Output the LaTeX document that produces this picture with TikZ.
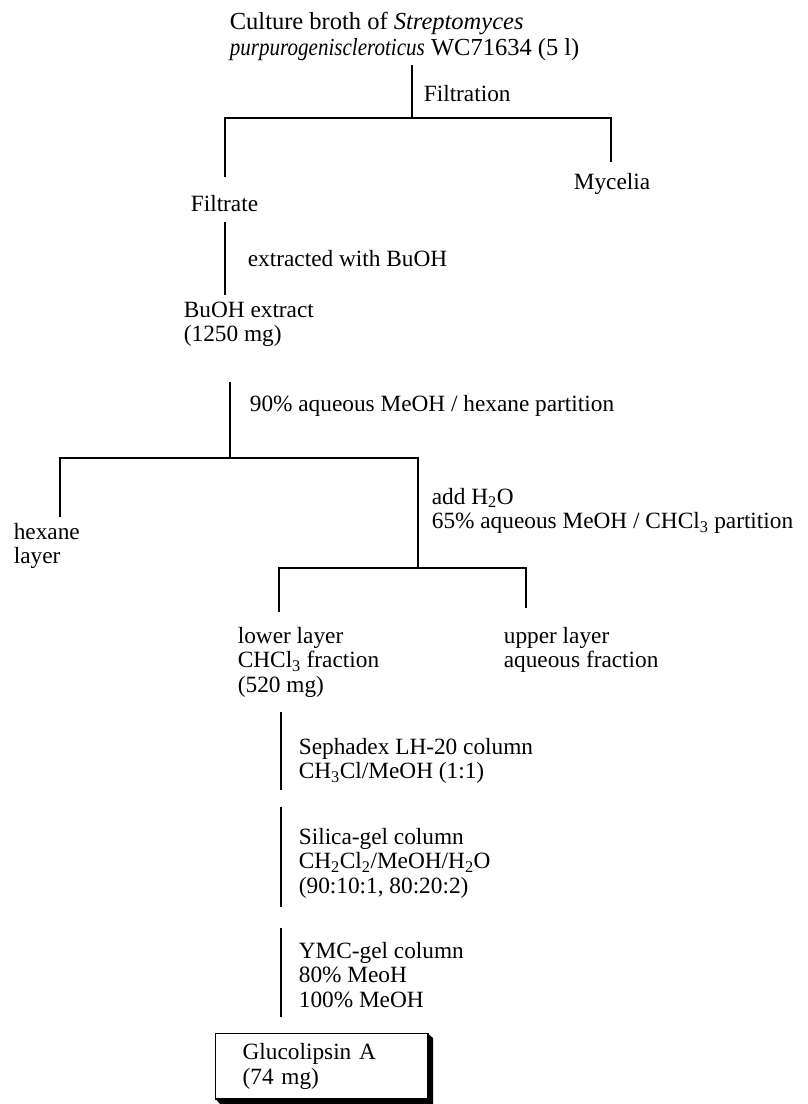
\documentclass[tikz,border=0pt]{standalone}
\usepackage{graphicx}
\usepackage{fontspec}
\setmainfont{Liberation Serif}
\newcommand\fs{\fontsize{23.3pt}{24.5pt}\selectfont}
\newcommand\fst{\fontsize{24.5pt}{26pt}\selectfont}
\begin{document}
\begin{tikzpicture}[x=1pt,y=-1pt, line width=1.7pt,
  txt/.style={anchor=north west, inner sep=0pt, align=left, font=\fs},
  result/.style={draw, anchor=north west, line width=1.3pt, inner xsep=27pt, inner ysep=10pt,
    text width=159pt, align=left, font=\fs, minimum height=66pt}]
\useasboundingbox (0,0) rectangle (807,1104);
% texts
\node[txt, font=\fst] (title) at (229,11) {Culture broth of \textit{Streptomyces}\\\scalebox{0.86}[1]{\textit{purpurogeniscleroticus}} WC71634 (5 l)};
\node[txt] (filtration) at (423,84) {Filtration};
\node[txt] (mycelia) at (573,172) {Mycelia};
\node[txt] (filtrate) at (190,194) {Filtrate};
\node[txt] (extracted) at (247,249) {extracted with BuOH};
\node[txt] (buoh) at (183,301) {BuOH extract\\(1250 mg)};
\node[txt] (part1) at (249,394) {90\% aqueous MeOH / hexane partition};
\node[txt] (hexane) at (13,522) {hexane\\layer};
\node[txt] (part2) at (431,487) {add H\textsubscript{2}O\\65\% aqueous MeOH / CHCl\textsubscript{3} partition};
\node[txt] (lower) at (237,626) {lower layer\\CHCl\textsubscript{3} fraction\\(520 mg)};
\node[txt] (upper) at (503,626) {upper layer\\aqueous fraction};
\node[txt] (sephadex) at (298,737) {Sephadex LH-20 column\\CH\textsubscript{3}Cl/MeOH (1:1)};
\node[txt] (silica) at (298,827) {Silica-gel column\\CH\textsubscript{2}Cl\textsubscript{2}/MeOH/H\textsubscript{2}O\\(90:10:1, 80:20:2)};
\node[txt] (ymc) at (298,941) {YMC-gel column\\80\% MeoH\\100\% MeOH};
% result box with shadow
\fill (427,1033) -- (433,1038) -- (433,1104) -- (220,1104) -- (215,1098) -- (427,1098) -- cycle;
\node[result] (glu) at (215,1033) {Glucolipsin A\\(74 mg)};
% connectors
\coordinate (a0) at (412,65);
\coordinate (a1) at (412,118);
\coordinate (aL) at (225,118);
\coordinate (aR) at (611,118);
\coordinate (aLe) at (225,177);
\coordinate (aRe) at (611,162);
\draw (a0) -- (a1);
\draw (aLe) -- (aL) -- (aR) -- (aRe);
\coordinate (b0) at (225,222);
\coordinate (b1) at (225,295);
\draw (b0) -- (b1);
\coordinate (c0) at (230,382);
\coordinate (c1) at (230,458);
\coordinate (cL) at (60,458);
\coordinate (cR) at (418,458);
\coordinate (cLe) at (60,517);
\coordinate (d1) at (418,568);
\coordinate (dL) at (279,568);
\coordinate (dR) at (526,568);
\coordinate (dLe) at (279,612);
\coordinate (dRe) at (526,608);
\draw (c0) -- (c1);
\draw (cLe) -- (cL) -- (cR) -- (d1);
\draw (dLe) -- (dL) -- (dR) -- (dRe);
\coordinate (e0) at (281,712);
\coordinate (e1) at (281,790);
\coordinate (f0) at (281,807);
\coordinate (f1) at (281,907);
\coordinate (g0) at (281,928);
\coordinate (g1) at (281,1017);
\draw (e0) -- (e1);
\draw (f0) -- (f1);
\draw (g0) -- (g1);
\end{tikzpicture}
\end{document}
